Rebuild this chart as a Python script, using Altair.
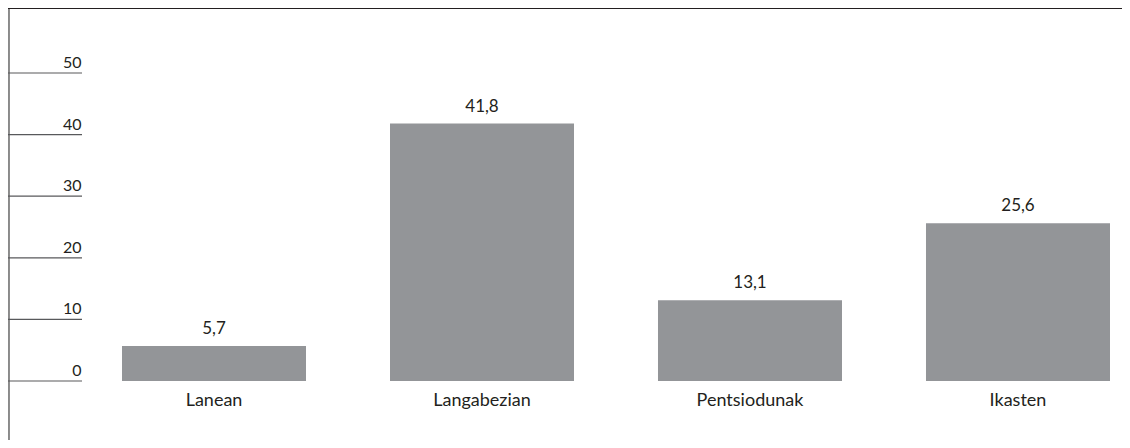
import altair as alt
import pandas as pd

categories = ["Lanean", "Langabezian", "Pentsiodunak", "Ikasten"]
values = [5.7, 41.8, 13.1, 25.6]
value_labels = ["5,7", "41,8", "13,1", "25,6"]
tick_values = [0, 10, 20, 30, 40, 50]
tick_labels = ["0", "10", "20", "30", "40", "50"]

FONT = "Lato, sans-serif"
TEXT_COLOR = "#231f20"
BAR_COLOR = "#939598"

bars_df = pd.DataFrame({"cat": categories, "value": values, "label": value_labels})
ticks_df = pd.DataFrame({"tick": tick_values, "tlabel": tick_labels})

x_enc = alt.X("cat:N", sort=categories,
              scale=alt.Scale(range=[114, 1102], paddingInner=0.3134, paddingOuter=0),
              axis=None)
y_scale = alt.Scale(domain=[0, 50], range=[373, 65])

base = alt.Chart(bars_df)

bars = base.mark_bar(color=BAR_COLOR).encode(
    x=x_enc,
    y=alt.Y("value:Q", scale=y_scale, axis=None),
)

val_text = base.mark_text(font=FONT, fontSize=17, color=TEXT_COLOR,
                          baseline="alphabetic", dy=-12).encode(
    x=x_enc,
    y=alt.Y("value:Q", scale=y_scale, axis=None),
    text="label:N",
)

cat_text = base.mark_text(font=FONT, fontSize=18, color=TEXT_COLOR,
                          baseline="alphabetic").encode(
    x=x_enc,
    y=alt.value(398),
    text="cat:N",
)

grid = alt.Chart(ticks_df).mark_rule(color="#58595b", strokeWidth=1.2).encode(
    y=alt.Y("tick:Q", scale=y_scale, axis=None),
    x=alt.value(0),
    x2=alt.value(74),
)

tick_text = alt.Chart(ticks_df).mark_text(font=FONT, fontSize=16, color=TEXT_COLOR,
                                          align="right", baseline="alphabetic",
                                          dy=-5).encode(
    y=alt.Y("tick:Q", scale=y_scale, axis=None),
    x=alt.value(73.5),
    text="tlabel:N",
)

vline = alt.Chart(ticks_df).mark_rule(color="#8a8a8a", strokeWidth=1.4).encode(
    x=alt.value(0.7),
    y=alt.value(0),
    y2=alt.value(432),
)

top_band = alt.Chart(ticks_df).mark_rule(color="#231f20", strokeWidth=1.4).encode(
    x=alt.value(0),
    x2=alt.value(1114),
    y=alt.value(0.3),
)

chart = alt.layer(vline, top_band, grid, tick_text, bars, val_text, cat_text).properties(
    width=1114, height=432, autosize="none", padding=0, background="white"
).configure_view(stroke=None)

chart.save("out.html", embed_options={"renderer": "svg", "actions": False})
